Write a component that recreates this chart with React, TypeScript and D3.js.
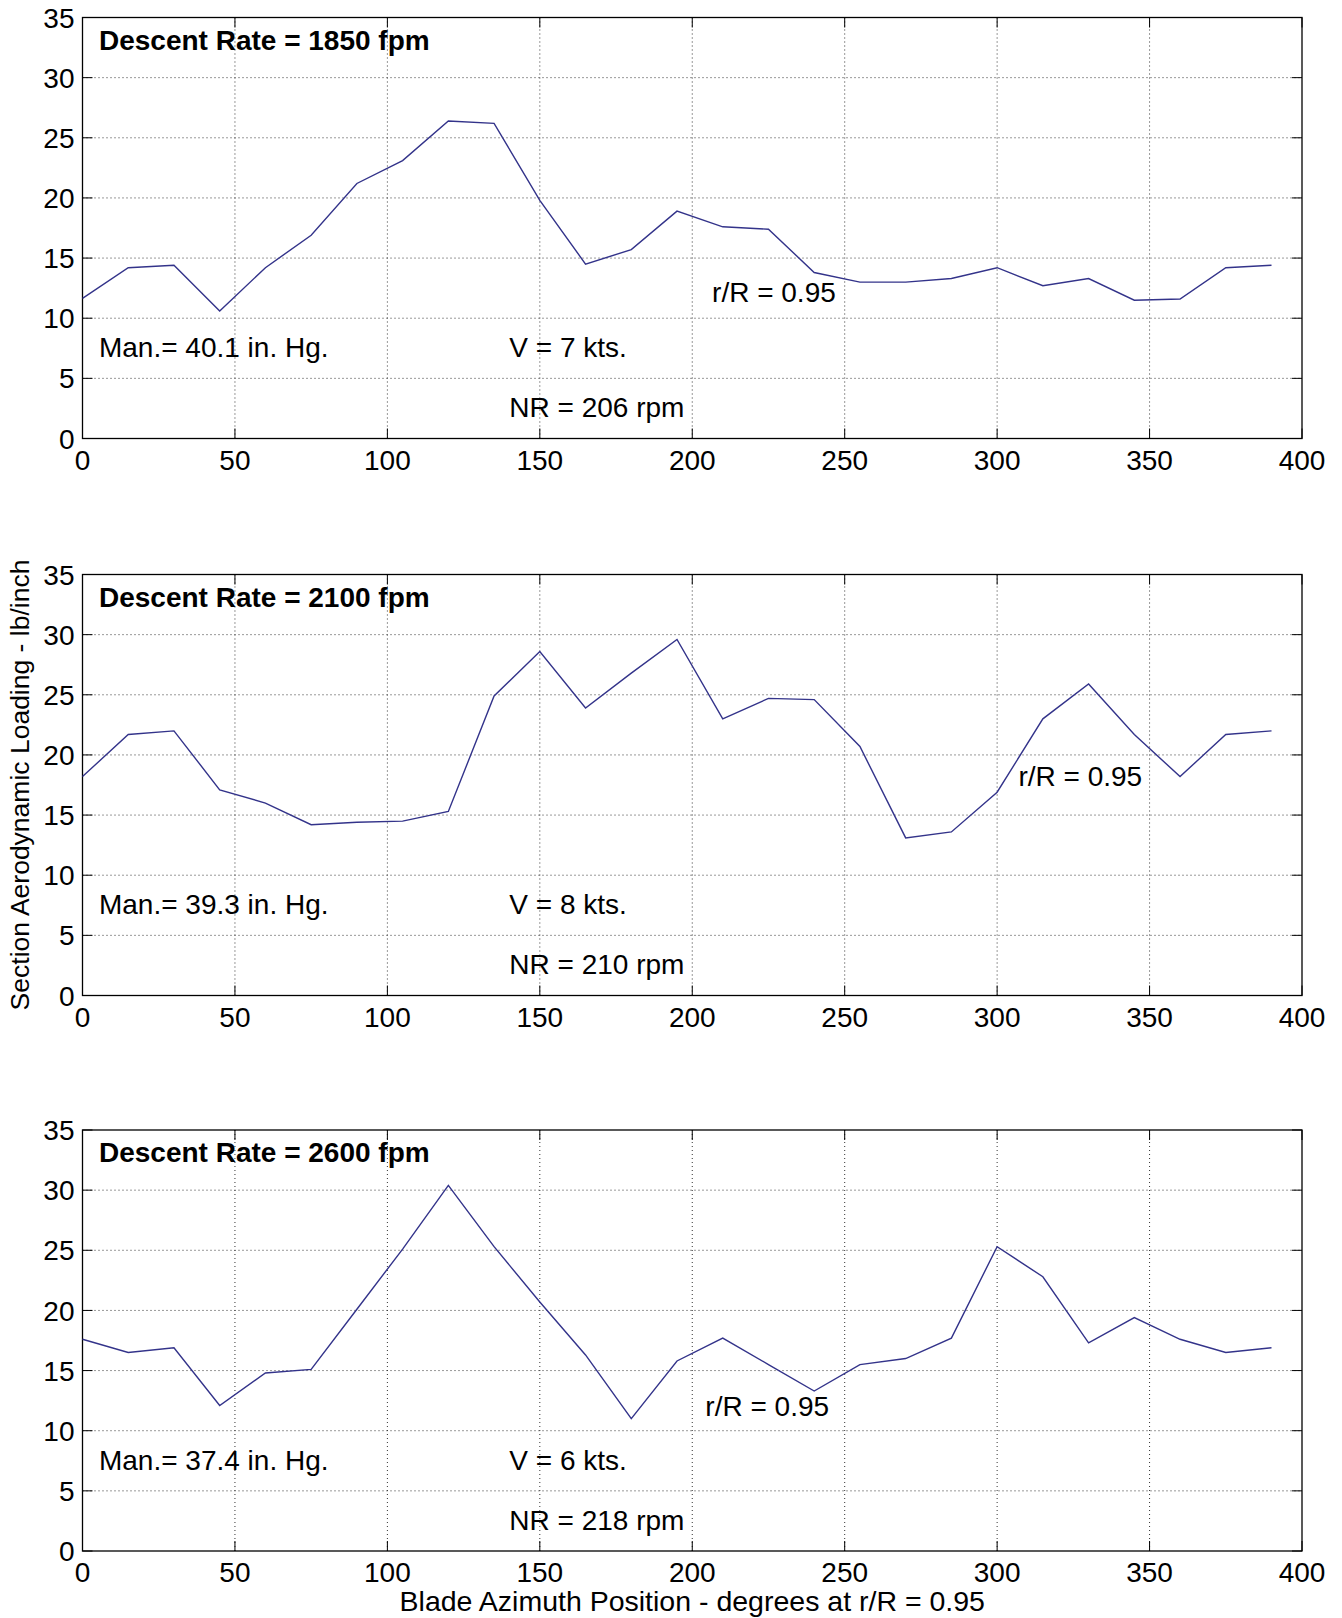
import React, { useEffect, useRef } from 'react';
import * as d3 from 'd3';

// blade azimuth, degrees (every 15 deg, one full turn plus 30)
const azimuth = [0, 15, 30, 45, 60, 75, 90, 105, 120, 135, 150, 165, 180, 195, 210, 225, 240, 255, 270, 285, 300, 315, 330, 345, 360, 375, 390];

// section loading, lb/inch
const loading1850 = [11.65, 14.2, 14.4, 10.6, 14.2, 16.9, 21.2, 23.1, 26.4, 26.2, 19.8, 14.5, 15.7, 18.9, 17.6, 17.4, 13.8, 13.0, 13.0, 13.3, 14.2, 12.7, 13.3, 11.5, 11.6, 14.2, 14.4];
const loading2100 = [18.2, 21.7, 22.0, 17.1, 16.0, 14.2, 14.4, 14.5, 15.3, 24.9, 28.6, 23.9, 26.8, 29.6, 23.0, 24.7, 24.6, 20.7, 13.1, 13.6, 16.9, 23.0, 25.9, 21.7, 18.2, 21.7, 22.0];
const loading2600 = [17.6, 16.5, 16.9, 12.1, 14.8, 15.1, 20.1, 25.1, 30.4, 25.3, 20.7, 16.3, 11.0, 15.8, 17.7, 15.5, 13.3, 15.5, 16.0, 17.7, 25.3, 22.8, 17.3, 19.4, 17.6, 16.5, 16.9];

const xTicks = [0, 50, 100, 150, 200, 250, 300, 350, 400];
const yTicks = [0, 5, 10, 15, 20, 25, 30, 35];

const descentLabels = ['Descent Rate = 1850 fpm', 'Descent Rate = 2100 fpm', 'Descent Rate = 2600 fpm'];
const manifoldLabels = ['Man.= 40.1 in. Hg.', 'Man.= 39.3 in. Hg.', 'Man.= 37.4 in. Hg.'];
const speedLabels = ['V = 7 kts.', 'V = 8 kts.', 'V = 6 kts.'];
const rotorLabels = ['NR = 206 rpm', 'NR = 210 rpm', 'NR = 218 rpm'];
// where the r/R note sits in each panel, in data units [deg, lb/in]
const radiusNoteAt = [[206.5, 11.35], [307, 17.4], [204.3, 11.2]];

const series = [loading1850, loading2100, loading2600];

const W = 1342;
const H = 1618;
const FONT = '"Liberation Sans", Arial, Helvetica, sans-serif';
const FS = 28;

const App = () => {
  const ref = useRef(null);

  useEffect(() => {
    const left = 82.5;
    const right = 1302;
    const panelH = 421;
    const panelTops = [17.5, 574.5, 1130];

    d3.select(ref.current).selectAll('*').remove();
    const svg = d3.select(ref.current);

    svg.append('rect').attr('width', W).attr('height', H).attr('fill', '#fff');

    const x = d3.scaleLinear().domain([0, 400]).range([left, right]);

    series.forEach((vals, i) => {
      const top = panelTops[i];
      const y = d3.scaleLinear().domain([0, 35]).range([top + panelH, top]);
      const g = svg.append('g');

      // dotted grid
      g.selectAll('.gx')
        .data(xTicks.slice(1, -1))
        .enter().append('line')
        .attr('x1', d => x(d)).attr('x2', d => x(d))
        .attr('y1', top).attr('y2', top + panelH)
        .attr('stroke', '#333').attr('stroke-width', 1)
        .attr('stroke-dasharray', '1,3');
      g.selectAll('.gy')
        .data(yTicks.slice(1, -1))
        .enter().append('line')
        .attr('x1', left).attr('x2', right)
        .attr('y1', d => y(d)).attr('y2', d => y(d))
        .attr('stroke', '#333').attr('stroke-width', 1)
        .attr('stroke-dasharray', '1,3');

      // inward ticks on all four sides
      const tl = 10;
      xTicks.forEach(t => {
        g.append('line').attr('x1', x(t)).attr('x2', x(t)).attr('y1', top + panelH).attr('y2', top + panelH - tl).attr('stroke', '#000');
        g.append('line').attr('x1', x(t)).attr('x2', x(t)).attr('y1', top).attr('y2', top + tl).attr('stroke', '#000');
      });
      yTicks.forEach(t => {
        g.append('line').attr('x1', left).attr('x2', left + tl).attr('y1', y(t)).attr('y2', y(t)).attr('stroke', '#000');
        g.append('line').attr('x1', right).attr('x2', right - tl).attr('y1', y(t)).attr('y2', y(t)).attr('stroke', '#000');
      });

      // box
      g.append('rect')
        .attr('x', left).attr('y', top)
        .attr('width', right - left).attr('height', panelH)
        .attr('fill', 'none').attr('stroke', '#000').attr('stroke-width', 1.3);

      // tick labels
      g.selectAll('.xl')
        .data(xTicks)
        .enter().append('text')
        .attr('x', d => x(d)).attr('y', top + panelH + 31)
        .attr('text-anchor', 'middle')
        .attr('font-family', FONT).attr('font-size', FS)
        .text(d => d);
      g.selectAll('.yl')
        .data(yTicks)
        .enter().append('text')
        .attr('x', left - 8).attr('y', d => y(d))
        .attr('dy', '0.36em')
        .attr('text-anchor', 'end')
        .attr('font-family', FONT).attr('font-size', FS)
        .text(d => d);

      // the loading curve
      const line = d3.line<number>()
        .x((d, k) => x(azimuth[k]))
        .y(d => y(d));
      g.append('path')
        .datum(vals)
        .attr('d', line)
        .attr('fill', 'none')
        .attr('stroke', '#33338a')
        .attr('stroke-width', 1.4);

      // notes
      const note = (txt, xv, yv, bold = false) =>
        g.append('text')
          .attr('x', x(xv)).attr('y', y(yv))
          .attr('font-family', FONT).attr('font-size', FS)
          .attr('font-weight', bold ? 'bold' : 'normal')
          .text(txt);
      note(descentLabels[i], 5.4, 32.3, true);
      note(manifoldLabels[i], 5.4, 6.75);
      note(speedLabels[i], 140, 6.75);
      note(rotorLabels[i], 140, 1.75);
      note('r/R = 0.95', radiusNoteAt[i][0], radiusNoteAt[i][1]);
    });

    // axis titles
    const midY = (574.5 + 574.5 + 421) / 2;
    svg.append('text')
      .attr('transform', `translate(29,${midY}) rotate(-90)`)
      .attr('text-anchor', 'middle')
      .attr('font-family', FONT).attr('font-size', 26.5)
      .text('Section Aerodynamic Loading - lb/inch');
    svg.append('text')
      .attr('x', (82.5 + 1302) / 2).attr('y', 1611)
      .attr('text-anchor', 'middle')
      .attr('font-family', FONT).attr('font-size', 28.5)
      .text('Blade Azimuth Position - degrees at r/R = 0.95');
  }, []);

  return (
    <svg ref={ref} width={W} height={H} style={{ position: 'absolute', left: 0, top: 0, display: 'block' }} />
  );
};

export default App;
